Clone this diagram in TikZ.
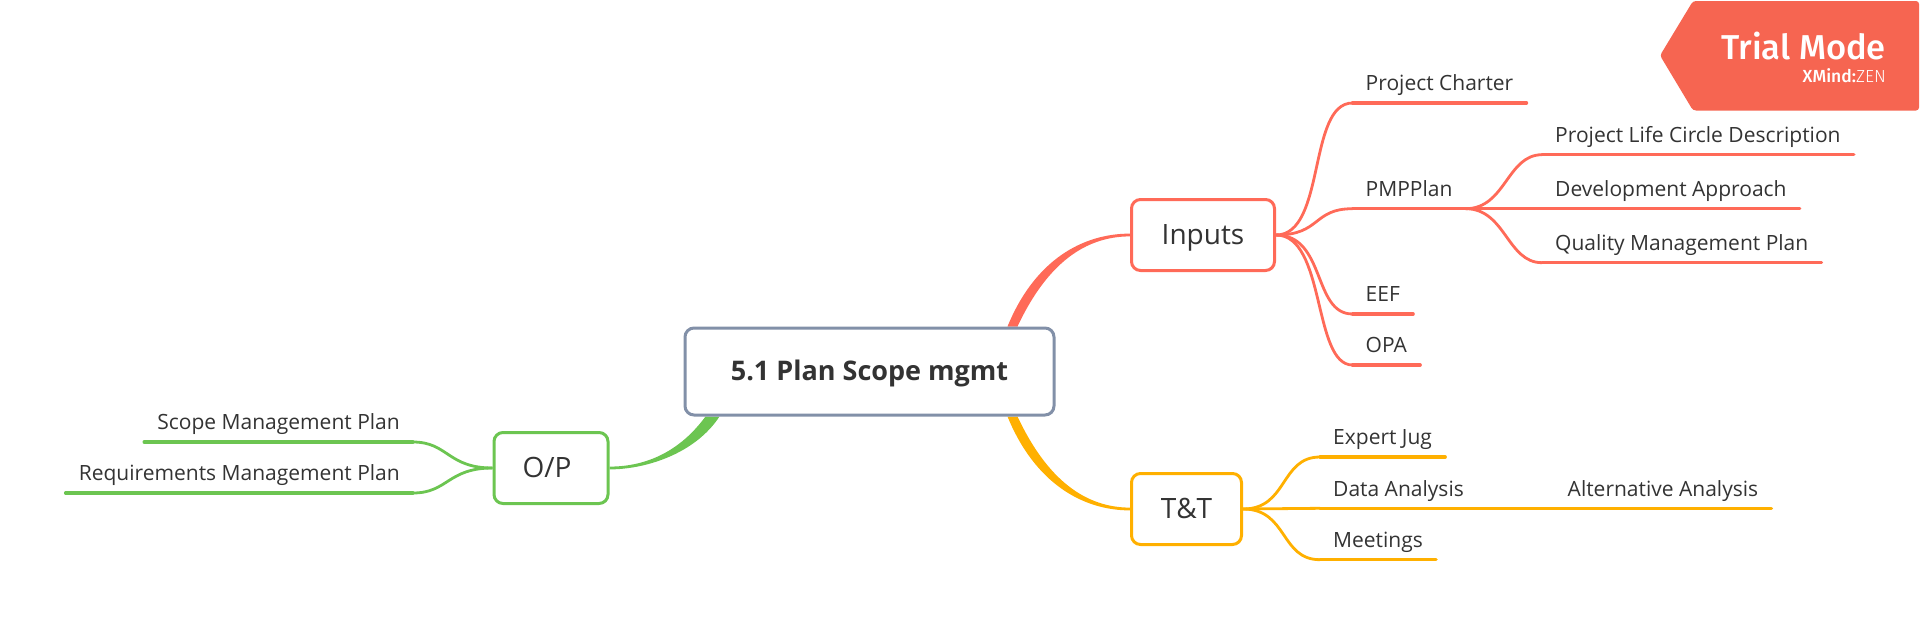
\documentclass[tikz,border=0pt]{standalone}
\usepackage{fontspec}
\setmainfont{Open Sans}
\newfontfamily\tagfont{Fira Sans Medium}
\newfontfamily\zenfont{Fira Sans Light}
\usetikzlibrary{backgrounds}

\definecolor{inkc}{HTML}{333333}
\definecolor{rootc}{HTML}{8290A8}
\definecolor{redc}{HTML}{FF6A58}
\definecolor{yelc}{HTML}{FFB000}
\definecolor{grnc}{HTML}{6CC551}
\definecolor{tagc}{HTML}{F66551}

\begin{document}
\begin{tikzpicture}
	% Styles
	[
	x=1pt,y=-1pt,
	rootbox/.style={draw=rootc,line width=3pt,fill=white,rounded corners=9pt,text=inkc,minimum width=369pt,minimum height=87pt,inner sep=0pt,text height=20pt,text depth=2pt,font=\fontsize{27}{30}\selectfont\bfseries},
	topicbox/.style={line width=3pt,fill=white,rounded corners=9pt,text=inkc,minimum height=71pt,inner sep=0pt,text height=20pt,text depth=2pt,font=\fontsize{28}{30}\selectfont},
	leaf/.style={anchor=south west,text=inkc,inner sep=0pt,inner xsep=13pt,text height=15pt,text depth=12pt,font=\fontsize{21}{24}\selectfont},
	leftleaf/.style={leaf,anchor=south east},
	thin line/.style={line width=2.8pt},
	under/.style={line width=3.4pt,line cap=round},
	]

	% Nodes
	\node at (869.5,371.5)	(root)	[rootbox]	{5.1 Plan Scope mgmt};
	\node at (1203,235)	(inputs)	[topicbox,draw=redc,minimum width=143pt]	{Inputs};
	\node at (1186.5,509)	(tt)	[topicbox,draw=yelc,minimum width=110pt]	{T\&T};
	\node at (551,468)	(op)	[topicbox,draw=grnc,minimum width=114pt]	{O/P\kern8pt};

	\node at (1352.5,103)	(charter)	[leaf]	{Project Charter};
	\node at (1352.5,208.7)	(pmp)	[leaf]	{PMPPlan};
	\node at (1352.5,314)	(eef)	[leaf]	{EEF};
	\node at (1352.5,365)	(opa)	[leaf]	{OPA};
	\node at (1542,154.7)	(life)	[leaf]	{Project Life Circle Description};
	\node at (1542,208.7)	(dev)	[leaf]	{Development Approach};
	\node at (1542,262.7)	(quality)	[leaf]	{Quality Management Plan};

	\node at (1320,457)	(expert)	[leaf]	{Expert Jug};
	\node at (1320,508.3)	(data)	[leaf]	{Data Analysis};
	\node at (1320,559.7)	(meet)	[leaf]	{Meetings};
	\node at (1554.5,508.3)	(alt)	[leaf]	{Alternative Analysis};

	\node at (413,442)	(scope)	[leftleaf]	{Scope Management Plan};
	\node at (413,493)	(req)	[leftleaf]	{Requirements Management Plan};

	% Arrows
	\begin{scope}[on background layer]
		\fill[redc] ([xshift=-48pt]root.north east) .. controls +(27,-66) and +(-48,0) .. ([yshift=1.4pt]inputs.west) -- ([yshift=-1.4pt]inputs.west) .. controls +(-44,0) and +(30,-64) .. ([xshift=-38pt]root.north east) -- cycle;
		\fill[yelc] ([xshift=-48pt]root.south east) .. controls +(27,66) and +(-48,0) .. ([yshift=-1.4pt]tt.west) -- ([yshift=1.4pt]tt.west) .. controls +(-44,0) and +(30,64) .. ([xshift=-38pt]root.south east) -- cycle;
		\fill[grnc] ([xshift=22pt]root.south west) .. controls +(-25,34) and +(38,0) .. ([yshift=1.4pt]op.east) -- ([yshift=-1.4pt]op.east) .. controls +(35,0) and +(-25,38) .. ([xshift=36pt]root.south west) -- cycle;
	\end{scope}

	\draw[redc,thin line] (inputs.east) .. controls +(50,0) and +(-45,0) .. (charter.south west);
	\draw[redc,thin line] (inputs.east) .. controls +(45,0) and +(-40,0) .. (pmp.south west);
	\draw[redc,thin line] (inputs.east) .. controls +(50,0) and +(-40,0) .. (eef.south west);
	\draw[redc,thin line] (inputs.east) .. controls +(50,0) and +(-40,0) .. (opa.south west);
	\draw[redc,under] (charter.south west) -- (charter.south east);
	\draw[redc,under] (pmp.south west) -- (pmp.south east);
	\draw[redc,under] (eef.south west) -- (eef.south east);
	\draw[redc,under] (opa.south west) -- (opa.south east);

	\draw[redc,thin line] (pmp.south east) .. controls +(40,0) and +(-35,0) .. (life.south west);
	\draw[redc,thin line] (pmp.south east) -- (dev.south west);
	\draw[redc,thin line] (pmp.south east) .. controls +(40,0) and +(-35,0) .. (quality.south west);
	\draw[redc,under] (life.south west) -- (life.south east);
	\draw[redc,under] (dev.south west) -- (dev.south east);
	\draw[redc,under] (quality.south west) -- (quality.south east);

	\draw[yelc,thin line] (tt.east) .. controls +(45,0) and +(-40,0) .. (expert.south west);
	\draw[yelc,thin line] (tt.east) -- (data.south west);
	\draw[yelc,thin line] (tt.east) .. controls +(45,0) and +(-40,0) .. (meet.south west);
	\draw[yelc,thin line] (data.south east) -- (alt.south west);
	\draw[yelc,under] (expert.south west) -- (expert.south east);
	\draw[yelc,under] (data.south west) -- (data.south east);
	\draw[yelc,under] (meet.south west) -- (meet.south east);
	\draw[yelc,under] (alt.south west) -- (alt.south east);

	\draw[grnc,thin line] (op.west) .. controls +(-45,0) and +(35,0) .. (scope.south east);
	\draw[grnc,thin line] (op.west) .. controls +(-45,0) and +(35,0) .. (req.south east);
	\draw[grnc,under] (scope.south east) -- (scope.south west);
	\draw[grnc,under] (req.south east) -- (req.south west);

	% Trial tag
	\fill[tagc,rounded corners=3pt] (1693,1) -- (1919,1) -- (1919,110.5) -- (1693,110.5) -- (1660,55.5) -- cycle;
	\node at (1886,59)	(trial)	[anchor=base east,inner sep=0pt,text=white,font=\fontsize{34.5}{40}\selectfont\tagfont]	{Trial Mode};
	\node at (1886,82.5)	(brand)	[anchor=base east,inner sep=0pt,text=white,font=\fontsize{17.5}{20}\selectfont\tagfont]	{XMind:{\zenfont ZEN}};

	\useasboundingbox (0,0) rectangle (1920,627);
\end{tikzpicture}
\end{document}
